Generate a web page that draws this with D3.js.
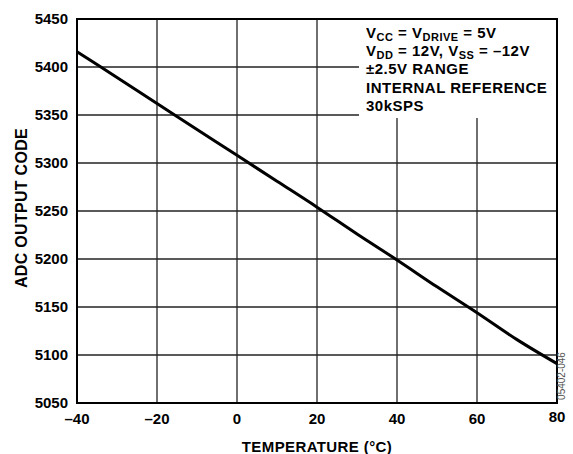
<!DOCTYPE html>
<html>
<head>
<meta charset="utf-8">
<script src="https://cdn.jsdelivr.net/npm/d3@7"></script>
<style>
  body { margin: 0; background: #fff; }
  text { font-family: "Liberation Sans", Arial, sans-serif; font-weight: bold; fill: #000; }
</style>
</head>
<body>
<svg id="chart" width="573" height="454"></svg>
<script>
// temperature (°C) vs ADC output code
var temps = [-40, -30, -20, -10, 0, 10, 20, 30, 40, 50, 60, 70, 80];
var codes = [5416, 5389, 5362, 5335, 5308, 5281, 5254, 5226, 5199, 5171, 5144, 5116, 5091];

var xTicks = [-40, -20, 0, 20, 40, 60, 80];
var yTicks = [5050, 5100, 5150, 5200, 5250, 5300, 5350, 5400, 5450];

var svg = d3.select("#chart"),
    plotL = 77, plotR = 557, plotT = 19, plotB = 403;

var x = d3.scaleLinear().domain([-40, 80]).range([plotL, plotR]);
var y = d3.scaleLinear().domain([5050, 5450]).range([plotB, plotT]);

// grid
svg.append("g")
    .selectAll("line")
    .data(xTicks)
    .enter().append("line")
    .attr("x1", function (d) { return x(d); })
    .attr("x2", function (d) { return x(d); })
    .attr("y1", plotT)
    .attr("y2", plotB)
    .attr("stroke", "#222")
    .attr("stroke-width", 1.3);

svg.append("g")
    .selectAll("line")
    .data(yTicks)
    .enter().append("line")
    .attr("x1", plotL)
    .attr("x2", plotR)
    .attr("y1", function (d) { return y(d); })
    .attr("y2", function (d) { return y(d); })
    .attr("stroke", "#222")
    .attr("stroke-width", 1.3);

// white box behind the conditions text
svg.append("rect")
    .attr("x", 359)
    .attr("y", plotT)
    .attr("width", plotR - 359)
    .attr("height", 99)
    .attr("fill", "#fff");

// data line
var line = d3.line()
    .x(function (d, i) { return x(temps[i]); })
    .y(function (d) { return y(d); })
    .curve(d3.curveMonotoneX);

svg.append("path")
    .datum(codes)
    .attr("d", line)
    .attr("fill", "none")
    .attr("stroke", "#000")
    .attr("stroke-width", 3);

// frame
svg.append("rect")
    .attr("x", plotL)
    .attr("y", plotT)
    .attr("width", plotR - plotL)
    .attr("height", plotB - plotT)
    .attr("fill", "none")
    .attr("stroke", "#000")
    .attr("stroke-width", 2);

// tick labels
svg.append("g")
    .selectAll("text")
    .data(yTicks)
    .enter().append("text")
    .attr("x", plotL - 9)
    .attr("y", function (d) { return y(d) + 5; })
    .attr("text-anchor", "end")
    .style("font-size", "15px")
    .text(function (d) { return d; });

svg.append("g")
    .selectAll("text")
    .data(xTicks)
    .enter().append("text")
    .attr("x", function (d) { return x(d); })
    .attr("y", function (d) { return d == 80 ? 422 : 424; })
    .attr("text-anchor", "middle")
    .style("font-size", "15px")
    .text(function (d) { return d < 0 ? "\u2013" + Math.abs(d) : d; });

// axis titles
svg.append("text")
    .attr("x", 317)
    .attr("y", 452)
    .attr("text-anchor", "middle")
    .style("font-size", "15px")
    .style("letter-spacing", "0.4px")
    .text("TEMPERATURE (°C)");

svg.append("text")
    .attr("transform", "translate(27,208) rotate(-90)")
    .attr("text-anchor", "middle")
    .style("font-size", "16px")
    .style("letter-spacing", "0.3px")
    .text("ADC OUTPUT CODE");

// conditions
var notes = [
    [["V", 0], ["CC", 1], [" = V", 0], ["DRIVE", 1], [" = 5V", 0]],
    [["V", 0], ["DD", 1], [" = 12V, V", 0], ["SS", 1], [" = \u201312V", 0]],
    [["±2.5V RANGE", 0]],
    [["INTERNAL REFERENCE", 0]],
    [["30kSPS", 0]]
];

var note = svg.append("g")
    .selectAll("text")
    .data(notes)
    .enter().append("text")
    .attr("x", 366)
    .attr("y", function (d, i) { return 37.5 + i * 18.4; })
    .style("font-size", "15px")
    .style("letter-spacing", "0.5px");

note.selectAll("tspan")
    .data(function (d) { return d; })
    .enter().append("tspan")
    .attr("dy", function (d, i, nodes) {
        var prev = i > 0 ? d3.select(nodes[i - 1]).datum()[1] : 0;
        return (d[1] - prev) * 3;
    })
    .style("font-size", function (d) { return d[1] ? "11px" : "15px"; })
    .text(function (d) { return d[0]; });

// figure number
svg.append("text")
    .attr("transform", "translate(565,376) rotate(-90)")
    .attr("text-anchor", "middle")
    .style("font-size", "10px")
    .style("font-weight", "normal")
    .style("fill", "#555")
    .text("05402-046");
</script>
</body>
</html>
